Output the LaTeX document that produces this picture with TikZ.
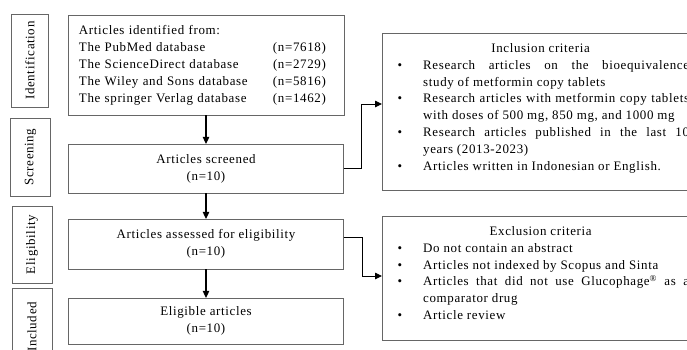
\documentclass[tikz,border=0pt]{standalone}
\usepackage{fontspec}
\setmainfont{Liberation Serif}[LetterSpace=5]
\usetikzlibrary{arrows.meta,positioning}
\tikzset{
  stagebox/.style={draw=black!60, rotate=90, inner sep=0pt},
  mainbox/.style={draw=black!60, minimum width=276, inner sep=0pt, align=center},
  critbox/.style={draw=black!60, anchor=north west, text width=318, inner xsep=0pt,
    inner ysep=10, align=justify},
  arrow/.style={line width=1.1pt, -{Triangle[length=7pt,width=6.5pt]}},
}
\newenvironment{critlist}{\begin{list}{\textbullet}{\leftmargin=41bp \rightmargin=10bp
  \labelsep=21bp \itemsep=0pt \topsep=0pt \parsep=0pt \partopsep=0pt}}{\rule[-10bp]{0pt}{10bp}\end{list}}
\begin{document}
\begin{tikzpicture}[x=1bp,y=-1bp,font=\fontsize{13}{17}\selectfont]
  \useasboundingbox (0,0) rectangle (687,349);
  \clip (0,0) rectangle (687,349);
  % stages
  \node[stagebox, minimum width=93, minimum height=37] (sident) at (30,60.5) {Identification};
  \node[stagebox, minimum width=78, minimum height=40] (sscreen) at (30.5,157) {Screening};
  \node[stagebox, minimum width=77, minimum height=40] (selig) at (32,244.5) {Eligibility};
  \node[stagebox, minimum width=78, minimum height=40] (sincl) at (32,327) {Included};
  % flow
  \node[draw=black!60, minimum width=277, minimum height=100, text width=255, inner xsep=11,
    align=left] (ident) at (206,65) {%
    \begin{tabular}{@{}p{194bp}@{}l@{}}
      Articles identified from: & \\
      The PubMed database & (n=7618)\\
      The ScienceDirect database & (n=2729)\\
      The Wiley and Sons database & (n=5816)\\
      The springer Verlag database & (n=1462)
    \end{tabular}};
  \node[mainbox, minimum height=49] (screen) at (206,168.5) {Articles screened\\(n=10)};
  \node[mainbox, minimum height=50] (elig) at (206,244) {Articles assessed for eligibility\\(n=10)};
  \node[mainbox, minimum height=46] (incl) at (206,321) {Eligible articles\\(n=10)};
  \draw[arrow] (ident) -- (screen);
  \draw[arrow] (screen) -- (elig);
  \draw[arrow] (elig) -- (incl);
  % criteria
  \node[critbox] (inclcrit) at (382,33) {\hyphenpenalty=10000
    {\centering Inclusion criteria\par}
    \begin{critlist}
      \item Research articles on the bioequivalence\linebreak study of metformin copy tablets
      \item Research articles with metformin copy tablets\linebreak with doses of 500 mg, 850 mg, and 1000 mg
      \item Research articles published in the last 10\linebreak years (2013-2023)
      \item Articles written in Indonesian or English.
    \end{critlist}};
  \node[critbox] (exclcrit) at (382,216) {\hyphenpenalty=10000
    {\centering Exclusion criteria\par}
    \begin{critlist}
      \item Do not contain an abstract
      \item Articles not indexed by Scopus and Sinta
      \item Articles that did not use Glucophage\textsuperscript{®} as a\linebreak comparator drug
      \item Article review
    \end{critlist}};
  \coordinate (inclin) at (382,104);
  \coordinate (exclin) at (382,276);
  \draw[line width=0.9pt, -{Triangle[length=7pt,width=6.5pt]}] (screen.east) -- ++(18,0) |- (inclin);
  \draw[line width=0.9pt, -{Triangle[length=7pt,width=6.5pt]}] ([yshift=7bp]elig.east) -- ++(19,0) |- (exclin);
\end{tikzpicture}
\end{document}
